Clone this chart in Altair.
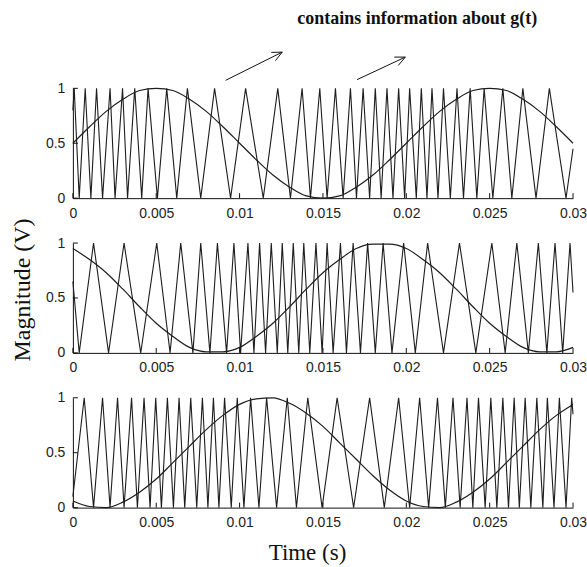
import altair as alt
import pandas as pd

# ---------------- data ----------------
time_ticks = [0, 0.005, 0.01, 0.015, 0.02, 0.025, 0.03]
mag_ticks = [0, 0.5, 1]

sine_t = [0.000, 0.001, 0.002, 0.003, 0.004, 0.005, 0.006, 0.007, 0.008, 0.009,
          0.010, 0.011, 0.012, 0.013, 0.014, 0.015, 0.016, 0.017, 0.018, 0.019,
          0.020, 0.021, 0.022, 0.023, 0.024, 0.025, 0.026, 0.027, 0.028, 0.029, 0.030]
sine_1 = [0.50, 0.65, 0.79, 0.90, 0.98, 1.00, 0.98, 0.90, 0.79, 0.65, 0.50, 0.35, 0.21, 0.10, 0.02, 0.00,
          0.02, 0.10, 0.21, 0.35, 0.50, 0.65, 0.79, 0.90, 0.98, 1.00, 0.98, 0.90, 0.79, 0.65, 0.50]
sine_2 = [0.95, 0.85, 0.73, 0.58, 0.42, 0.27, 0.15, 0.05, 0.01, 0.01, 0.05, 0.15, 0.27, 0.42, 0.58, 0.73,
          0.85, 0.95, 0.99, 0.99, 0.95, 0.85, 0.73, 0.58, 0.42, 0.27, 0.15, 0.05, 0.01, 0.01, 0.05]
sine_3 = [0.06, 0.01, 0.00, 0.05, 0.14, 0.26, 0.41, 0.56, 0.71, 0.84, 0.94, 0.99, 1.00, 0.95, 0.86, 0.74,
          0.59, 0.44, 0.29, 0.16, 0.06, 0.01, 0.00, 0.05, 0.14, 0.26, 0.41, 0.56, 0.71, 0.84, 0.94]

# triangle carrier: times of its peaks (value 1) and troughs (value 0), plus start / end values
peaks_1 = [0.00008, 0.00074, 0.00142, 0.00223, 0.00298, 0.00371, 0.00451, 0.00563, 0.00687, 0.00850,
           0.01036, 0.01229, 0.01375, 0.01481, 0.01575, 0.01665, 0.01741, 0.01814, 0.01884, 0.01954,
           0.02020, 0.02090, 0.02154, 0.02223, 0.02304, 0.02383, 0.02467, 0.02579, 0.02699, 0.02858]
troughs_1 = [0.00038, 0.00108, 0.00178, 0.00253, 0.00328, 0.00413, 0.00507, 0.00623, 0.00767, 0.00946,
             0.01142, 0.01305, 0.01425, 0.01525, 0.01621, 0.01701, 0.01780, 0.01849, 0.01920, 0.01990,
             0.02060, 0.02124, 0.02190, 0.02264, 0.02343, 0.02423, 0.02519, 0.02633, 0.02778, 0.02958]
peaks_2 = [0.00124, 0.00307, 0.00503, 0.00647, 0.00767, 0.00867, 0.00966, 0.01050, 0.01120, 0.01190,
           0.01256, 0.01322, 0.01385, 0.01458, 0.01525, 0.01605, 0.01681, 0.01768, 0.01861, 0.01984,
           0.02128, 0.02319, 0.02513, 0.02663, 0.02792, 0.02892, 0.02982]
troughs_2 = [0.00038, 0.00214, 0.00407, 0.00583, 0.00720, 0.00822, 0.00922, 0.01006, 0.01086, 0.01156,
             0.01226, 0.01289, 0.01355, 0.01421, 0.01495, 0.01561, 0.01641, 0.01725, 0.01814, 0.01914,
             0.02054, 0.02223, 0.02417, 0.02593, 0.02732, 0.02843, 0.02938]
peaks_3 = [0.00068, 0.00178, 0.00268, 0.00352, 0.00427, 0.00497, 0.00567, 0.00637, 0.00707, 0.00777,
           0.00843, 0.00910, 0.00986, 0.01066, 0.01162, 0.01286, 0.01409, 0.01585, 0.01780, 0.01954,
           0.02080, 0.02187, 0.02280, 0.02364, 0.02433, 0.02507, 0.02579, 0.02647, 0.02713, 0.02783,
           0.02846, 0.02918, 0.02992]
troughs_3 = [0.00124, 0.00223, 0.00307, 0.00387, 0.00463, 0.00531, 0.00603, 0.00671, 0.00743, 0.00810,
             0.00876, 0.00950, 0.01026, 0.01116, 0.01222, 0.01341, 0.01495, 0.01684, 0.01868, 0.02020,
             0.02134, 0.02234, 0.02323, 0.02399, 0.02473, 0.02543, 0.02613, 0.02678, 0.02747, 0.02819,
             0.02886, 0.02958]
start_values = [0.80, 0.65, 0.10]
end_values = [0.45, 0.55, 0.85]

headline = ["contains information about g(t)"]
y_title = ["Magnitude (V)"]
x_title = ["Time (s)"]

sines = [sine_1, sine_2, sine_3]
peaks = [peaks_1, peaks_2, peaks_3]
troughs = [troughs_1, troughs_2, troughs_3]

W, H = 501, 110
LINE = "#1e1e1e"
SERIF = "Liberation Serif"
SANS = "Liberation Sans"


def carrier_frame(i):
    rows = [(0.0, start_values[i])]
    rows += [(t, 1.0) for t in peaks[i]] + [(t, 0.0) for t in troughs[i]]
    rows += [(0.03, end_values[i])]
    rows.sort(key=lambda r: r[0])
    return pd.DataFrame(rows, columns=["t", "v"])


def seg(x1, y1, x2, y2):
    return alt.Chart(pd.DataFrame({"a": [0]})).mark_rule(color="#111", strokeWidth=1).encode(
        x=alt.value(x1), y=alt.value(y1), x2=alt.value(x2), y2=alt.value(y2))


def panel(i):
    xs = alt.Scale(domain=[0, 0.03], nice=False, zero=False)
    ys = alt.Scale(domain=[0, 1], nice=False, zero=False)
    x = alt.X("t:Q", scale=xs, title=None,
              axis=alt.Axis(values=time_ticks, format="~g", ticks=False, tickSize=0,
                            labelPadding=8, grid=False, labelFlush=False))
    y = alt.Y("v:Q", scale=ys, title=None,
              axis=alt.Axis(values=mag_ticks, format="~g", ticks=False, tickSize=0,
                            labelPadding=8, grid=False, labelFlush=False))
    carrier = alt.Chart(carrier_frame(i)).mark_line(color=LINE, strokeWidth=1.1).encode(x=x, y=y)
    sine = alt.Chart(pd.DataFrame({"t": sine_t, "v": sines[i]})).mark_line(
        color=LINE, strokeWidth=1.2, interpolate="monotone").encode(x=x, y=y)
    xt = alt.Chart(pd.DataFrame({"t": time_ticks})).mark_rule(color="#111").encode(
        x=x, y=alt.value(H), y2=alt.value(H - 5))
    yt = alt.Chart(pd.DataFrame({"v": mag_ticks})).mark_rule(color="#111").encode(
        y=y, x=alt.value(0), x2=alt.value(5))
    layers = [carrier, sine, xt, yt]
    if i == 0:
        layers.append(
            alt.Chart(pd.DataFrame({"s": headline})).mark_text(
                font=SERIF, fontSize=18, fontWeight="bold", color="#111",
                align="center", baseline="alphabetic").encode(
                text="s:N", x=alt.value(345), y=alt.value(-64)))
        layers += [seg(153, -8, 209.7, -36.3), seg(209.7, -36.3, 198.7, -36.0),
                   seg(209.7, -36.3, 202.9, -27.7),
                   seg(284.7, -8.7, 333, -31.3), seg(333, -31.3, 322, -31.3),
                   seg(333, -31.3, 325.9, -22.9)]
    if i == 1:
        layers.append(
            alt.Chart(pd.DataFrame({"s": y_title})).mark_text(
                font=SERIF, fontSize=24, color="#111", angle=270,
                align="center", baseline="middle").encode(
                text="s:N", x=alt.value(-50), y=alt.value(47)))
    if i == 2:
        layers.append(
            alt.Chart(pd.DataFrame({"s": x_title})).mark_text(
                font=SERIF, fontSize=23, color="#111",
                align="center", baseline="alphabetic").encode(
                text="s:N", x=alt.value(235), y=alt.value(H + 52)))
    return alt.layer(*layers).properties(width=W, height=H)


chart = alt.vconcat(panel(0), panel(1), panel(2), spacing=45, bounds="flush").properties(
    padding={"left": 10, "top": 10, "right": 0, "bottom": 2},
    background="white",
).configure_view(stroke=None).configure_axis(
    domainColor="#111", domainWidth=1, labelFont=SANS, labelFontSize=14,
    labelColor="#222",
)

chart.save("out.html", embed_options={"renderer": "svg", "actions": False})
